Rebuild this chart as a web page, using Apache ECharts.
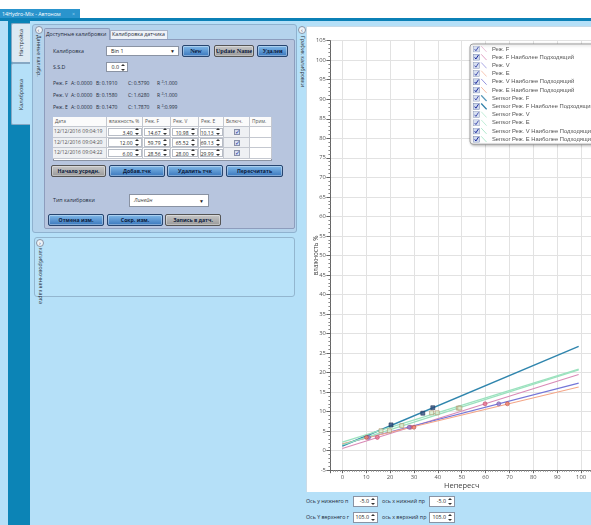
<!DOCTYPE html>
<html lang="ru"><head><meta charset="utf-8">
<title>Hydro-Mix</title>
<script src="https://cdn.jsdelivr.net/npm/echarts@6.0.0/dist/echarts.min.js"></script>
<style>
*{box-sizing:border-box;}
html,body{margin:0;padding:0;}
body{width:591px;height:525px;overflow:hidden;position:relative;background:#b5e0f8;font-family:"Open Sans","Noto Sans",sans-serif;color:#1c2433;}
.a{position:absolute;}
.t{position:absolute;font-size:5.3px;line-height:7px;white-space:nowrap;color:#1d2a3a;}
.tab{position:absolute;display:flex;align-items:center;justify-content:center;}
.vtx{writing-mode:vertical-rl;font-size:5.3px;white-space:nowrap;color:#2a3340;line-height:7px;}
.up{transform:rotate(180deg);}
.btn{position:absolute;height:12px;border:1px solid #27456f;border-radius:2px;background:linear-gradient(#80b8e8,#3b78bd);font-size:5.2px;font-weight:bold;color:#0b1a3c;text-align:center;line-height:10px;white-space:nowrap;box-shadow:inset 0 0 0 1px rgba(255,255,255,.35);}
.gray{background:linear-gradient(#c6c6c6,#9a9a9a);border-color:#555;}
.serif{font-family:"Liberation Serif","DejaVu Serif",serif;font-size:6.2px;}
.box{position:absolute;background:#fff;border:1px solid #8a93a3;font-size:5.3px;line-height:8px;white-space:nowrap;color:#222;}
.sp{position:absolute;right:2px;top:50%;width:4px;height:7px;margin-top:-3.5px;}
.sp:before{content:"";position:absolute;left:0;top:0;border-left:2px solid transparent;border-right:2px solid transparent;border-bottom:2.5px solid #333;}
.sp:after{content:"";position:absolute;left:0;bottom:0;border-left:2px solid transparent;border-right:2px solid transparent;border-top:2.5px solid #333;}
.circ{position:absolute;width:8px;height:8px;border:1px solid #8793a6;border-radius:50%;background:#eef3f8;font-size:6px;line-height:6px;text-align:center;color:#445;}
.cb{position:absolute;width:6px;height:6px;border:1px solid #8890a8;background:#d5def0;font-size:5.5px;line-height:5px;color:#1d2d9a;text-align:center;}
.cell{position:absolute;border-right:1px solid #c4c8d0;border-bottom:1px solid #c4c8d0;font-size:5.1px;line-height:9px;white-space:nowrap;overflow:hidden;}
sup{font-size:3.5px;vertical-align:top;line-height:4px;}
</style></head><body>

<!-- title bar -->
<div class="a" style="left:0;top:0;width:591px;height:18px;background:#fff"></div>
<div class="a" style="left:0;top:9px;width:80px;height:10px;background:#2a94cd"></div>
<div class="t" style="left:2px;top:10.5px;color:#fff;font-size:5.3px">14Hydro-Mix - Автоном</div>
<div class="t" style="left:72px;top:10.5px;color:#9fd0ee;font-size:5.3px">×</div>
<div class="a" style="left:0;top:18px;width:591px;height:3px;background:#0b80b6"></div>

<!-- left tab strip -->
<div class="a" style="left:8px;top:21px;width:22px;height:504px;background:#0c84b6"></div>
<div class="tab" style="left:11px;top:23px;width:19px;height:40px;background:#dce9f3;border:1px solid #86a8c4;border-right:none;border-radius:2px 0 0 2px"><span class="vtx up">Настройка</span></div>
<div class="tab" style="left:11px;top:63px;width:19px;height:62px;background:#b5e0f8;border:1px solid #86a8c4;border-right:none;border-radius:2px 0 0 2px"><span class="vtx up">Калибровка</span></div>

<!-- main calibration panel -->
<div class="a" style="left:32px;top:24px;width:265px;height:209px;background:#b4d3ec;border:1px solid #8fb2cf;border-radius:3px"></div>
<div class="circ" style="left:34.5px;top:26px">‹</div>
<div class="tab" style="left:34px;top:35px;width:9px;height:40px;justify-content:center;align-items:flex-start"><span class="vtx">Данные калибр.</span></div>

<div class="a" style="left:44px;top:39px;width:251px;height:190px;background:#b7c5de;border:1px solid #8d9dbd;border-radius:0 2px 2px 2px"></div>
<div class="a" style="left:44px;top:28px;width:66px;height:12px;background:#b7c5de;border:1px solid #8d9dbd;border-bottom:none;border-radius:2px 2px 0 0"></div>
<div class="t" style="left:46px;top:31px">Доступные калибровки</div>
<div class="a" style="left:110px;top:30px;width:58px;height:9px;background:#eef2f8;border:1px solid #a7b3c8;border-bottom:none"></div>
<div class="t" style="left:112px;top:31px">Калибровка датчика</div>

<div class="t" style="left:53px;top:48px">Калибровка</div>
<div class="box" style="left:106px;top:46px;width:73px;height:10px;padding-left:4px">Bin 1<span style="position:absolute;right:3px;top:0;font-size:5px">▼</span></div>
<div class="btn serif" style="left:182px;top:45px;width:28px">New</div>
<div class="btn gray serif" style="left:214px;top:45px;width:40px">Update Name</div>
<div class="btn serif" style="left:257px;top:45px;width:31px">Удален</div>

<div class="t" style="left:53px;top:63.5px">S.S.D</div>
<div class="box" style="left:106px;top:62px;width:22px;height:10px;text-align:right;padding-right:8px">0.0<span class="sp"></span></div>

<div id="coef"></div>
<div id="table"></div>

<div class="btn gray" style="left:51px;top:165px;width:55px">Начало усредн.</div>
<div class="btn" style="left:109px;top:165px;width:56px">Добав.тчк</div>
<div class="btn" style="left:167px;top:165px;width:56px">Удалить тчк</div>
<div class="btn" style="left:226px;top:165px;width:57px">Пересчитать</div>

<div class="t" style="left:53px;top:197px">Тип калибровки</div>
<div class="box" style="left:129px;top:194px;width:80px;height:13px;padding-left:4px;line-height:10px;font-style:italic;color:#444">Линейн<span style="position:absolute;right:4px;top:1px;font-size:5px;font-style:normal;color:#222">▼</span></div>

<div class="btn" style="left:48px;top:214px;width:56px">Отмена изм.</div>
<div class="btn" style="left:107px;top:214px;width:56px">Сокр. изм.</div>
<div class="btn gray" style="left:165px;top:214px;width:56px">Запись в датч.</div>

<!-- second collapsed panel -->
<div class="a" style="left:34px;top:237px;width:261px;height:60px;background:#b8e2f9;border:1px solid #93b6cf;border-radius:3px"></div>
<div class="circ" style="left:36px;top:238.5px">›</div>
<div class="tab" style="left:36px;top:248px;width:9px;height:48px;align-items:flex-start"><span class="vtx">калибровочная карта</span></div>

<!-- chart expander -->
<div class="circ" style="left:298px;top:26px">‹</div>
<div class="tab" style="left:298px;top:36px;width:8px;height:60px;align-items:flex-start"><span class="vtx">График калибровки</span></div>
<div class="a" style="left:306px;top:26px;width:290px;height:466px;background:#fff;border-left:1px solid #c9dbe8;border-top:1px solid #c9dbe8"></div>
<div id="chart" class="a" style="left:305px;top:38px;width:320px;height:454px"></div>

<!-- axis range controls -->
<div class="t" style="left:306px;top:498px">Ось у нижнего п</div>
<div class="box" style="left:353px;top:496px;width:25px;height:11px;text-align:right;padding-right:8px;line-height:9px">-5.0<span class="sp"></span></div>
<div class="t" style="left:382px;top:498px">ось х нижний пр</div>
<div class="box" style="left:429px;top:496px;width:26px;height:11px;text-align:right;padding-right:8px;line-height:9px">-5.0<span class="sp"></span></div>
<div class="t" style="left:306px;top:513.5px">Ось Y верхнего г</div>
<div class="box" style="left:353px;top:511.5px;width:25px;height:11px;text-align:right;padding-right:8px;line-height:9px">105.0<span class="sp"></span></div>
<div class="t" style="left:382px;top:513.5px">ось х верхний пр</div>
<div class="box" style="left:429px;top:511.5px;width:26px;height:11px;text-align:right;padding-right:8px;line-height:9px">105.0<span class="sp"></span></div>

<script>
// ---------- data ----------
const coefModes = ['Реж. F', 'Реж. V', 'Реж. E'];
const coefA = ['0.0000', '0.0000', '0.0000'];
const coefB = ['0.1910', '0.1580', '0.1470'];
const coefC = ['0.5790', '1.6280', '1.7870'];
const coefR2 = ['1.000', '1.000', '0.999'];

const tableHead = ['Дата', 'влажность %', 'Реж. F', 'Реж. V', 'Реж. E', 'Включ.', 'Прим.'];
const tableDates = ['12/12/2016 09:04:19', '12/12/2016 09:04:20', '12/12/2016 09:04:22'];
const moisture = [3.40, 12.00, 6.00];
const readF = [14.67, 59.79, 28.56];
const readV = [10.98, 65.52, 28.00];
const readE = [10.13, 69.13, 29.99];

const fFit = [[0, 0.58], [99, 19.5]];
const vFit = [[0, 1.63], [99, 17.3]];
const eFit = [[0, 1.79], [99, 16.3]];
const sensorFPoints = [[20.4, 6.6], [33.7, 9.6], [37.9, 11.0]];
const sensorFFit = [[0, 1.2], [99, 26.7]];
const sensorVPoints = [[16.2, 5.1], [24.9, 6.4], [39.7, 9.7], [48.6, 10.9]];
const sensorEPoints = [[19.7, 5.1], [37.4, 9.7], [49.2, 10.9]];
const sensorVFit = [[0, 2.2], [99, 20.9]];
const sensorEFit = [[0, 1.5], [99, 20.7]];

const seriesNames = ['Реж. F', 'Реж. F Наиболее Подходящий', 'Реж. V', 'Реж. E',
  'Реж. V Наиболее Подходящий', 'Реж. E Наиболее Подходящий', 'Sensor Реж. F',
  'Sensor Реж. F Наиболее Подходящий', 'Sensor Реж. V', 'Sensor Реж. E',
  'Sensor Реж. V Наиболее Подходящий', 'Sensor Реж. E Наиболее Подходящий'];

const xAxisName = 'Непересч';
const yAxisName = 'влажность %';

// ---------- coefficients text ----------
(function () {
  const host = document.getElementById('coef');
  const rows = [80, 92, 104];
  const cols = [53, 71, 96, 128, 157];
  let html = '';
  coefModes.forEach((m, i) => {
    const y = rows[i];
    html += `<div class="t" style="left:${cols[0]}px;top:${y}px;font-size:5px">${m}</div>`;
    html += `<div class="t" style="left:${cols[1]}px;top:${y}px;font-size:5px">A: ${coefA[i]}</div>`;
    html += `<div class="t" style="left:${cols[2]}px;top:${y}px;font-size:5px">B: ${coefB[i]}</div>`;
    html += `<div class="t" style="left:${cols[3]}px;top:${y}px;font-size:5px">C: ${coefC[i]}</div>`;
    html += `<div class="t" style="left:${cols[4]}px;top:${y}px;font-size:5px">R <sup>2</sup>:${coefR2[i]}</div>`;
  });
  host.innerHTML = html;
})();

// ---------- table ----------
(function () {
  const host = document.getElementById('table');
  const xs = [53, 107, 143, 171, 199, 224, 250, 272];
  const top = 117, headH = 10, rowH = 10.5;
  let html = `<div class="a" style="left:53px;top:${top}px;width:219px;height:44px;background:#fff;border:1px solid #8a93a3"></div>`;
  tableHead.forEach((h, c) => {
    html += `<div class="cell" style="left:${xs[c]}px;top:${top}px;width:${xs[c + 1] - xs[c]}px;height:${headH}px;padding-left:2px;color:#555;background:#fbfbfb;font-size:4.8px">${h}</div>`;
  });
  const fmt = v => v.toFixed(2);
  for (let r = 0; r < tableDates.length; r++) {
    const y = top + headH + r * rowH;
    const vals = [moisture[r], readF[r], readV[r], readE[r]];
    html += `<div class="cell" style="left:${xs[0]}px;top:${y}px;width:${xs[1] - xs[0]}px;height:${rowH}px;padding-left:1px;color:#555;background:#eef0f3">${tableDates[r]}</div>`;
    vals.forEach((v, k) => {
      const c = k + 1;
      html += `<div class="cell" style="left:${xs[c]}px;top:${y}px;width:${xs[c + 1] - xs[c]}px;height:${rowH}px;background:#fff"><div class="box" style="left:0.5px;top:0.5px;right:0.5px;bottom:0.5px;border-color:#b8bdc6;text-align:right;padding-right:8px;line-height:8px;font-size:5px">${fmt(v)}<span class="sp"></span></div></div>`;
    });
    html += `<div class="cell" style="left:${xs[5]}px;top:${y}px;width:${xs[6] - xs[5]}px;height:${rowH}px;background:#eef0f3"><div class="cb" style="left:10px;top:2px">✓</div></div>`;
    html += `<div class="cell" style="left:${xs[6]}px;top:${y}px;width:${xs[7] - xs[6]}px;height:${rowH}px;background:#fff"></div>`;
  }
  host.innerHTML = html;
})();

// ---------- chart ----------
const pts = (xs, ys) => xs.map((x, i) => [x, ys[i]]);
const fPoints = pts(readF, moisture);
const vPoints = pts(readV, moisture);
const ePoints = pts(readE, moisture);

const legendColors = ['#e0a0c4', '#d98ab6', '#7a78d6', '#f2a88a', '#7a78d6', '#f2a88a',
  '#2f7fa8', '#2f7fa8', '#9ee3c2', '#9ee3c2', '#9ee3c2', '#9ee3c2'];
const legendWidths = [0.8, 0.8, 0.8, 0.8, 0.8, 0.8, 1.3, 1.3, 0.8, 0.8, 0.8, 0.8];

function legendIcon(color, w) {
  const svg = '<svg xmlns="http://www.w3.org/2000/svg" width="56" height="28" viewBox="0 0 14 7">' +
    '<rect x="0.5" y="0.5" width="6" height="6" fill="#cfd9ee" stroke="#6f7fa6" stroke-width="0.5"/>' +
    '<path d="M1.7 3.7 L2.9 5.3 L5.5 1.3" fill="none" stroke="#1b2a9c" stroke-width="1"/>' +
    '<line x1="8.2" y1="0.6" x2="13.6" y2="6.4" stroke="' + color + '" stroke-width="' + w + '"/></svg>';
  return 'image://data:image/svg+xml;charset=utf-8,' + encodeURIComponent(svg);
}

function scatter(name, data, symbol, color, border) {
  return { name, type: 'scatter', data, symbol, symbolSize: 4, z: 4,
    itemStyle: { color, borderColor: border, borderWidth: 0.7 } };
}
function fit(name, data, color, width) {
  return { name, type: 'line', data, symbol: 'none', z: 3,
    lineStyle: { color, width }, itemStyle: { color } };
}

const chart = echarts.init(document.getElementById('chart'));
chart.setOption({
  animation: false,
  backgroundColor: 'transparent',
  textStyle: { fontFamily: '"Open Sans", "Noto Sans", sans-serif' },
  grid: { left: 25.4, top: 2.7, right: 32, bottom: 21.8, containLabel: false, outerBoundsMode: 'none' },
  legend: {
    orient: 'vertical', left: 165, top: 6,
    itemWidth: 14, itemHeight: 7, itemGap: 1.2,
    padding: [1.5, 3, 1.5, 3],
    backgroundColor: '#fff', borderColor: '#8c8c8c', borderWidth: 0.8, borderRadius: 3,
    shadowBlur: 3, shadowColor: 'rgba(0,0,0,0.3)', shadowOffsetX: 1, shadowOffsetY: 1,
    selectedMode: false,
    textStyle: { fontSize: 5.8, color: '#555', lineHeight: 7, fontFamily: '"Liberation Sans", Arial, sans-serif' },
    data: seriesNames.map((n, i) => ({ name: n, icon: legendIcon(legendColors[i], legendWidths[i]) }))
  },
  xAxis: {
    type: 'value', min: -5, max: 105, splitNumber: 11,
    name: xAxisName, nameLocation: 'middle', nameGap: 11.5, nameMoveOverlap: false,
    nameTextStyle: { fontSize: 7.5, color: '#444' },
    axisLine: { onZero: false, lineStyle: { color: '#666', width: 1 } },
    axisTick: { length: 3, lineStyle: { color: '#666' } },
    minorTick: { show: true, splitNumber: 10, length: 1.5, lineStyle: { color: '#888' } },
    axisLabel: { fontSize: 5.8, color: '#555', margin: 4.5,
      formatter: v => (v >= 0 && v <= 100 && v % 10 === 0 ? String(v) : '') },
    splitLine: { show: true, lineStyle: { color: '#e2e2e2', width: 1 } }
  },
  yAxis: {
    type: 'value', min: -5, max: 105, interval: 5,
    name: yAxisName, nameLocation: 'middle', nameGap: 11, nameMoveOverlap: false,
    nameTextStyle: { fontSize: 6.3, color: '#444' },
    axisLine: { onZero: false, lineStyle: { color: '#666', width: 1 } },
    axisTick: { length: 4, lineStyle: { color: '#666' } },
    minorTick: { show: true, splitNumber: 5, length: 2, lineStyle: { color: '#888' } },
    axisLabel: { fontSize: 5.8, color: '#555', margin: 4.5 },
    splitLine: { show: true, lineStyle: { color: '#e2e2e2', width: 1 } }
  },
  series: [
    scatter(seriesNames[0], fPoints, 'circle', '#e8708e', '#b84662'),
    fit(seriesNames[1], fFit, '#d98ab6', 1.1),
    scatter(seriesNames[2], vPoints, 'circle', '#9a7cc8', '#6c50a0'),
    scatter(seriesNames[3], ePoints, 'circle', '#ec7a6a', '#b84c40'),
    fit(seriesNames[4], vFit, '#7476d8', 1.1),
    fit(seriesNames[5], eFit, '#f4a688', 1.1),
    scatter(seriesNames[6], sensorFPoints, 'rect', '#2f4e7e', '#1c3050'),
    fit(seriesNames[7], sensorFFit, '#2f85ad', 1.4),
    scatter(seriesNames[8], sensorVPoints, 'rect', '#d9edcf', '#a8845a'),
    scatter(seriesNames[9], sensorEPoints, 'rect', '#d9edcf', '#a8845a'),
    fit(seriesNames[10], sensorVFit, '#9ce2bf', 1.3),
    fit(seriesNames[11], sensorEFit, '#9ce2bf', 1.3)
  ]
});
</script>
</body></html>
